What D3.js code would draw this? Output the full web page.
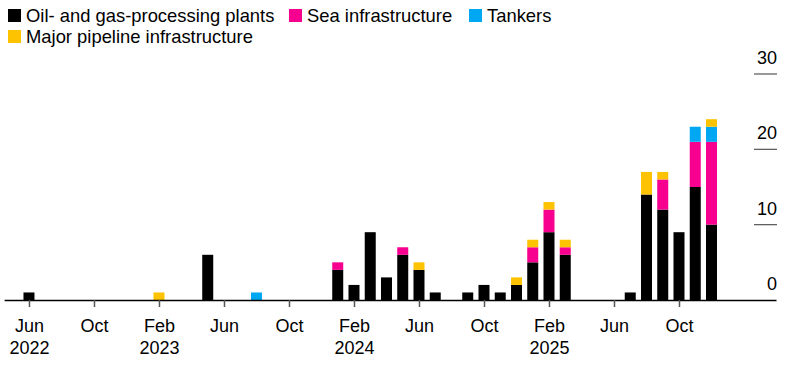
<!DOCTYPE html>
<html>
<head>
<meta charset="utf-8">
<script src="https://cdn.jsdelivr.net/npm/d3@7"></script>
<style>
  body { margin: 0; background: #fff; }
  svg text { font-family: "Liberation Sans", Arial, sans-serif; fill: #000; }
</style>
</head>
<body>
<svg id="chart" width="786" height="366"></svg>
<script>
// months from Jun 2022 (index 0) to Dec 2025 (index 42)
var months = d3.range(0, 43);
var startYear = 2022, startMonth = 5; // June

// attacks per month, by target
var oilPlants = [1,0,0,0,0,0,0,0,0,0,0,6,0,0,0,0,0,0,0,4,2,9,3,6,4,1,0,1,2,1,2,5,9,6,0,0,0,1,14,12,9,15,10];
var seaInfra  = [0,0,0,0,0,0,0,0,0,0,0,0,0,0,0,0,0,0,0,1,0,0,0,1,0,0,0,0,0,0,0,2,3,1,0,0,0,0,0,4,0,6,11];
var tankers   = [0,0,0,0,0,0,0,0,0,0,0,0,0,0,1,0,0,0,0,0,0,0,0,0,0,0,0,0,0,0,0,0,0,0,0,0,0,0,0,0,0,2,2];
var pipelines = [0,0,0,0,0,0,0,0,1,0,0,0,0,0,0,0,0,0,0,0,0,0,0,0,1,0,0,0,0,0,1,1,1,1,0,0,0,0,3,1,0,0,1];

var seriesNames = ["Oil- and gas-processing plants", "Sea infrastructure", "Tankers", "Major pipeline infrastructure"];
var seriesKeys = ["oil", "sea", "tankers", "pipeline"];
var seriesColors = ["#000000", "#f7008f", "#00a8f3", "#fdc300"];

var xTicks = [0, 4, 8, 12, 16, 20, 24, 28, 32, 36, 40];
var xTickLabels = [["Jun", "2022"], ["Oct"], ["Feb", "2023"], ["Jun"], ["Oct"], ["Feb", "2024"], ["Jun"], ["Oct"], ["Feb", "2025"], ["Jun"], ["Oct"]];
var yTicks = [0, 10, 20, 30];

var rows = months.map(function (i) {
  return {
    month: i,
    oil: oilPlants[i],
    sea: seaInfra[i],
    tankers: tankers[i],
    pipeline: pipelines[i]
  };
});

var svg = d3.select("#chart");
var baseY = 300;

var x = d3.scaleLinear().domain([-1.5, 46]).range([4.6, 776.5]);
var y = d3.scaleLinear().domain([0, 30]).range([baseY, 74]);
var barW = 11;

var layers = d3.stack().keys(seriesKeys)(rows);

// bars
svg.append("g").attr("class", "bars")
  .selectAll("g")
  .data(layers)
  .join("g")
    .attr("fill", function (d, i) { return seriesColors[i]; })
  .selectAll("rect")
  .data(function (d) { return d.filter(function (p) { return p[1] > p[0]; }); })
  .join("rect")
    .attr("x", function (d) { return x(d.data.month) - barW / 2; })
    .attr("width", barW)
    .attr("y", function (d) { return y(d[1]); })
    .attr("height", function (d) { return y(d[0]) - y(d[1]); });

// y axis on the right: label above a short rule
var yAxis = svg.append("g").attr("class", "y-axis");
yAxis.selectAll("line")
  .data(yTicks.filter(function (t) { return t > 0; }))
  .join("line")
    .attr("x1", 754).attr("x2", 777)
    .attr("y1", function (d) { return y(d); })
    .attr("y2", function (d) { return y(d); })
    .attr("stroke", "#555")
    .attr("stroke-width", 1.2);
yAxis.selectAll("text")
  .data(yTicks)
  .join("text")
    .attr("x", 777)
    .attr("y", function (d) { return y(d) - 10; })
    .attr("text-anchor", "end")
    .style("font-size", "18px")
    .text(function (d) { return d; });

// x axis
var xAxis = svg.append("g")
  .attr("transform", "translate(0," + baseY + ")")
  .call(d3.axisBottom(x).tickValues(xTicks).tickSize(7).tickFormat(""));
xAxis.select(".domain")
  .attr("d", "M" + x(-1.5) + ",0.5H" + x(46))
  .attr("stroke", "#000")
  .attr("stroke-width", 1.5);
xAxis.selectAll(".tick line").attr("stroke", "#555").attr("stroke-width", 1.5);
xAxis.selectAll(".tick").each(function (d, i) {
  var t = d3.select(this).append("text")
    .attr("text-anchor", "middle")
    .attr("fill", "#000")
    .style("font-size", "18px");
  xTickLabels[i].forEach(function (s, j) {
    t.append("tspan").attr("x", 0).attr("y", 32 + j * 22).text(s);
  });
});

// legend
var legendPos = [[8, 9], [289, 9], [469, 9], [8, 30]];
var legend = svg.append("g").attr("class", "legend")
  .selectAll("g")
  .data(seriesNames)
  .join("g")
    .attr("transform", function (d, i) { return "translate(" + legendPos[i][0] + "," + legendPos[i][1] + ")"; });
legend.append("rect")
  .attr("width", 13).attr("height", 13)
  .attr("fill", function (d, i) { return seriesColors[i]; });
legend.append("text")
  .attr("x", 18).attr("y", 12.5)
  .style("font-size", "18.4px")
  .text(function (d) { return d; });
</script>
</body>
</html>
